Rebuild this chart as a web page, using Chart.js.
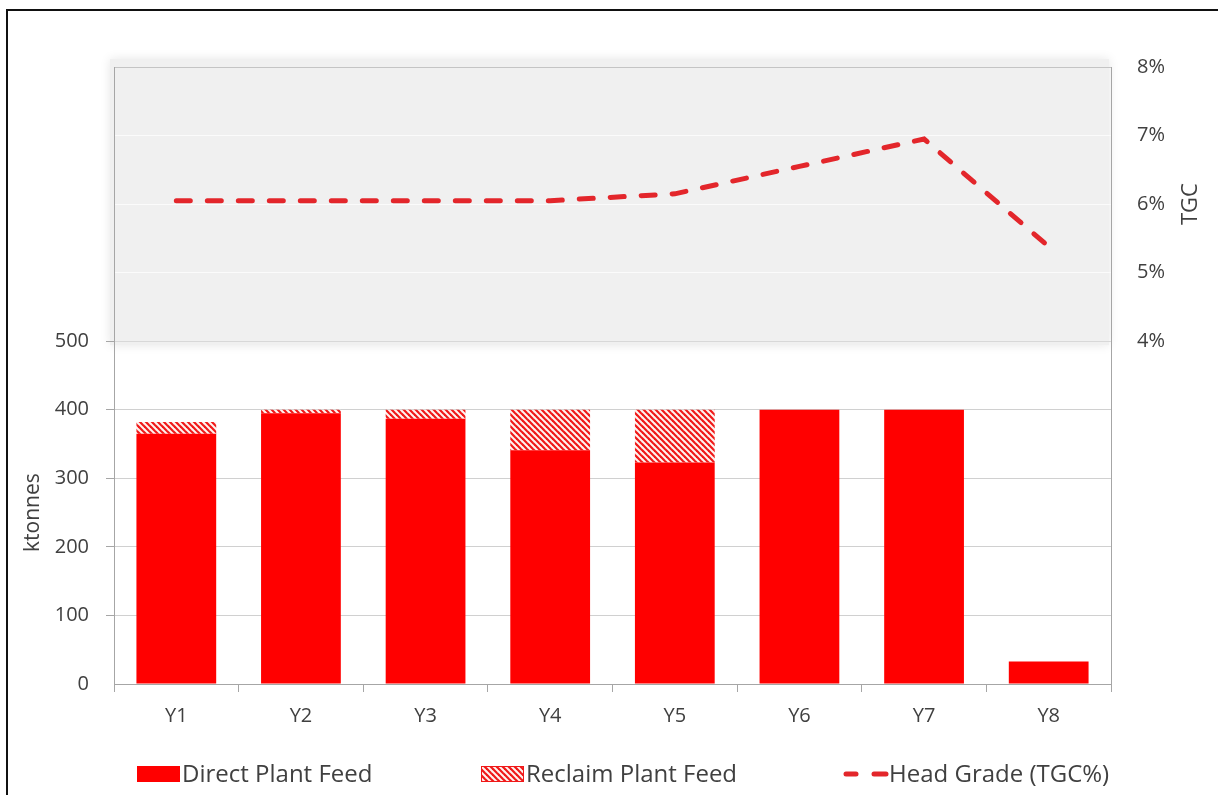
<!DOCTYPE html>
<html>
<head>
<meta charset="utf-8">
<script src="https://cdn.jsdelivr.net/npm/chart.js@4/dist/chart.umd.min.js"></script>
<style>
  html, body { margin: 0; padding: 0; background: #ffffff; }
  #wrap { position: relative; width: 1218px; height: 795px; overflow: hidden; }
  #frame { position: absolute; left: 6px; top: 9px; width: 1240px; height: 820px;
           border-left: 2px solid #111; border-top: 2px solid #111; pointer-events: none; }
  canvas { position: absolute; left: 0; top: 0; }
</style>
</head>
<body>
<div id="wrap">
  <canvas id="c" width="1218" height="795"></canvas>
  <div id="frame"></div>
</div>
<script>
// Annual plant feed (ktonnes) and head grade (TGC %)
const categories   = ['Y1', 'Y2', 'Y3', 'Y4', 'Y5', 'Y6', 'Y7', 'Y8'];
const directFeed   = [365, 395, 387, 341, 323, 400, 400, 33];
const reclaimFeed  = [17, 5, 13, 59, 77, 0, 0, 0];
const headGrade    = [6.05, 6.05, 6.05, 6.05, 6.15, 6.55, 6.95, 5.38];
const tonnageTicks = [0, 100, 200, 300, 400, 500];
const gradeTicks   = [4, 5, 6, 7, 8];

const FONT = "'Open Sans', 'Noto Sans', sans-serif";
const TEXT = '#404040';
const RED = '#ff0000';
const LINE_RED = '#e3262b';

// diagonal hatch used for the reclaim feed
function makeHatch() {
  const s = 6;
  const c = document.createElement('canvas');
  c.width = s; c.height = s;
  const g = c.getContext('2d');
  g.fillStyle = '#fff4f0';
  g.fillRect(0, 0, s, s);
  g.strokeStyle = '#f01818';
  g.lineWidth = 2.2;
  for (const off of [-s, 0, s]) {
    g.beginPath();
    g.moveTo(-1, off - 1);
    g.lineTo(s + 1, s + off + 1);
    g.stroke();
  }
  return g.createPattern(c, 'repeat');
}
const hatch = makeHatch();

// shaded band behind the grade panel (upper part of the plot)
const gradeBand = {
  id: 'gradeBand',
  beforeDraw(chart) {
    const {ctx, chartArea: a, scales: {y}} = chart;
    const top = y.getPixelForValue(900);
    const bot = y.getPixelForValue(500);
    ctx.save();
    ctx.shadowColor = 'rgba(0,0,0,0.10)';
    ctx.shadowBlur = 10;
    ctx.fillStyle = '#f0f0f0';
    ctx.fillRect(a.left - 4, top - 8, a.right - a.left + 2, bot - top + 12);
    ctx.restore();
  }
};

// rotated axis titles, each centred on its own panel
const axisTitles = {
  id: 'axisTitles',
  afterDraw(chart) {
    const {ctx, scales: {y, y2}} = chart;
    ctx.save();
    ctx.fillStyle = TEXT;
    ctx.font = `21px ${FONT}`;
    ctx.textAlign = 'center';
    ctx.textBaseline = 'middle';
    ctx.translate(33, y.getPixelForValue(250));
    ctx.rotate(-Math.PI / 2);
    ctx.fillText('ktonnes', 0, 0);
    ctx.restore();
    ctx.save();
    ctx.fillStyle = TEXT;
    ctx.font = `22px ${FONT}`;
    ctx.textAlign = 'center';
    ctx.textBaseline = 'middle';
    ctx.translate(1191, y2.getPixelForValue(6));
    ctx.rotate(-Math.PI / 2);
    ctx.fillText('TGC', 0, 0);
    ctx.restore();
  }
};

// legend row along the bottom
const bottomLegend = {
  id: 'bottomLegend',
  afterDraw(chart) {
    const {ctx} = chart;
    const ds = chart.data.datasets;
    const yMid = 774;
    const starts = [137, 481, 843];
    ctx.save();
    ctx.font = `24px ${FONT}`;
    ctx.textBaseline = 'middle';
    // solid swatch
    ctx.fillStyle = ds[0].backgroundColor;
    ctx.fillRect(starts[0], yMid - 8, 43, 16);
    // hatched swatch
    ctx.fillStyle = ds[1].backgroundColor;
    ctx.fillRect(starts[1], yMid - 8, 43, 16);
    ctx.strokeStyle = '#f01818';
    ctx.lineWidth = 1;
    ctx.strokeRect(starts[1] + 0.5, yMid - 7.5, 42, 15);
    // dashed line swatch
    ctx.strokeStyle = ds[2].borderColor;
    ctx.lineWidth = 5;
    ctx.lineCap = 'round';
    ctx.beginPath(); ctx.moveTo(846, yMid); ctx.lineTo(856, yMid); ctx.stroke();
    ctx.beginPath(); ctx.moveTo(874, yMid); ctx.lineTo(886, yMid); ctx.stroke();
    ctx.fillStyle = TEXT;
    ctx.fillText(ds[0].label, starts[0] + 45, yMid + 1);
    ctx.fillText(ds[1].label, starts[1] + 45, yMid + 1);
    ctx.fillText(ds[2].label, starts[2] + 46, yMid + 1);
    ctx.restore();
  }
};

new Chart(document.getElementById('c'), {
  data: {
    labels: categories,
    datasets: [
      {
        type: 'bar', label: 'Direct Plant Feed', data: directFeed,
        backgroundColor: RED, borderWidth: 0, yAxisID: 'y', stack: 'feed', order: 1,
        barPercentage: 0.64, categoryPercentage: 1.0
      },
      {
        type: 'bar', label: 'Reclaim Plant Feed', data: reclaimFeed,
        backgroundColor: hatch, borderWidth: 0, yAxisID: 'y', stack: 'feed', order: 2,
        barPercentage: 0.64, categoryPercentage: 1.0
      },
      {
        type: 'line', label: 'Head Grade (TGC%)', data: headGrade,
        borderColor: LINE_RED, backgroundColor: LINE_RED, borderWidth: 5,
        borderDash: [14, 17], borderCapStyle: 'round', pointRadius: 0,
        tension: 0, fill: false, yAxisID: 'y2', order: 0
      }
    ]
  },
  options: {
    responsive: false,
    devicePixelRatio: 1,
    animation: false,
    layout: { padding: { top: 67, left: 0, right: 0, bottom: 0 } },
    plugins: {
      legend: { display: false },
      tooltip: { enabled: false }
    },
    scales: {
      x: {
        stacked: true,
        grid: { display: true, offset: true, drawOnChartArea: false, drawTicks: true,
                tickLength: 8, tickColor: '#a6a6a6' },
        border: { display: true, color: '#a6a6a6', width: 1 },
        ticks: { color: TEXT, font: { family: FONT, size: 20 }, padding: 12, maxRotation: 0 },
        afterFit(scale) { scale.height = 111; }
      },
      y: {
        position: 'left',
        stacked: true,
        min: 0, max: 900,
        afterBuildTicks(scale) {
          scale.ticks = [0, 100, 200, 300, 400, 500, 600, 700, 800, 900].map(v => ({ value: v }));
        },
        ticks: {
          color: TEXT, font: { family: FONT, size: 20 }, padding: 17,
          callback: v => tonnageTicks.includes(v) ? String(v) : ''
        },
        grid: {
          drawTicks: true, tickLength: 8,
          tickColor: ctx => (ctx.tick && ctx.tick.value > 0 && ctx.tick.value <= 500) ? '#a6a6a6' : 'rgba(0,0,0,0)',
          color: ctx => {
            const v = ctx.tick ? ctx.tick.value : 0;
            if (v === 0) return 'rgba(0,0,0,0)';
            if (v <= 400) return '#d0d0d0';
            if (v === 500) return '#d8d8d8';
            if (v === 900) return '#c4c4c4';
            return '#fbfbfb';
          }
        },
        border: { display: true, color: '#a6a6a6', width: 1 },
        afterFit(scale) { scale.width = 114; }
      },
      y2: {
        position: 'right',
        min: -1, max: 8,
        afterBuildTicks(scale) {
          scale.ticks = [-1, 0, 1, 2, 3, 4, 5, 6, 7, 8].map(v => ({ value: v }));
        },
        ticks: {
          color: TEXT, font: { family: FONT, size: 20 }, padding: 18,
          callback: v => gradeTicks.includes(v) ? v + '%' : ''
        },
        grid: { display: false },
        border: { display: true, color: '#a6a6a6', width: 1 },
        afterFit(scale) { scale.width = 107; }
      }
    }
  },
  plugins: [gradeBand, axisTitles, bottomLegend]
});
</script>
</body>
</html>
